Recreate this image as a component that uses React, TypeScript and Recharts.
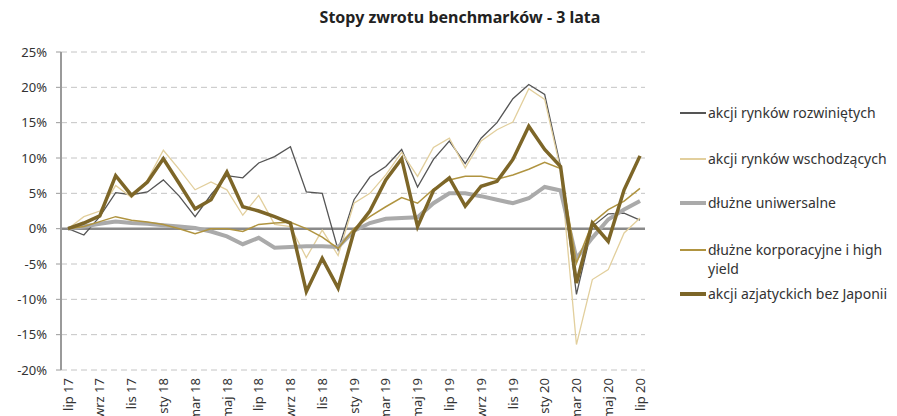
import React from "react";
import { LineChart, Line, XAxis, YAxis, CartesianGrid, ReferenceLine } from "recharts";

const FONT = "'Noto Sans', sans-serif";

const months = [
  "lip 17", "sie 17", "wrz 17", "paź 17", "lis 17", "gru 17",
  "sty 18", "lut 18", "mar 18", "kwi 18", "maj 18", "cze 18",
  "lip 18", "sie 18", "wrz 18", "paź 18", "lis 18", "gru 18",
  "sty 19", "lut 19", "mar 19", "kwi 19", "maj 19", "cze 19",
  "lip 19", "sie 19", "wrz 19", "paź 19", "lis 19", "gru 19",
  "sty 20", "lut 20", "mar 20", "kwi 20", "maj 20", "cze 20",
  "lip 20",
];

const developed = [
  0, -0.9, 1.7, 5.1, 4.8, 5.2, 6.9, 4.6, 1.7, 4.8,
  7.5, 7.2, 9.3, 10.2, 11.6, 5.2, 5.0, -3.0, 4.1, 7.3,
  8.8, 11.2, 5.9, 9.8, 12.4, 9.2, 12.8, 15.0, 18.4, 20.4,
  19.0, 8.8, -9.3, 0.3, 2.1, 2.2, 1.2,
];

const emerging = [
  0, 1.7, 2.5, 6.1, 4.4, 6.9, 11.1, 8.4, 5.5, 6.6,
  5.5, 1.9, 4.7, 0.6, 0.3, -4.1, -0.2, -3.8, 3.6, 5.0,
  7.6, 10.8, 7.4, 11.5, 12.8, 8.6, 12.4, 14.0, 15.1, 19.8,
  18.3, 8.4, -16.4, -7.2, -5.8, -0.6, 1.5,
];

const universal = [
  0, 0.3, 0.7, 1.0, 0.8, 0.7, 0.5, 0.3, 0.1, -0.4,
  -1.1, -2.2, -1.3, -2.7, -2.6, -2.5, -2.5, -2.6, -0.3, 0.8,
  1.4, 1.5, 1.6, 3.6, 5.0, 5.0, 4.6, 4.1, 3.6, 4.3,
  5.9, 5.4, -4.2, -1.3, 1.3, 2.7, 3.9,
];

const corporate = [
  0, 0.3, 1.0, 1.7, 1.2, 0.95, 0.6, 0, -0.7, 0,
  0, -0.4, 0.6, 0.8, 0.9, 0, -1.2, -2.8, 0.0, 1.7,
  3.1, 4.4, 3.6, 5.6, 6.9, 7.4, 7.4, 7.0, 7.6, 8.4,
  9.4, 8.5, -4.9, 0.8, 2.7, 3.9, 5.7,
];

const asia = [
  0, 0.8, 1.8, 7.5, 4.7, 6.6, 9.9, 6.4, 2.8, 4.1,
  8.0, 3.1, 2.5, 1.7, 0.8, -8.9, -4.2, -8.4, -0.4, 2.5,
  6.9, 9.9, 0.3, 5.4, 7.2, 3.2, 6.0, 6.7, 9.8, 14.5,
  11.2, 8.8, -7.7, 0.8, -1.8, 5.5, 10.3,
];

const yTicks = [-20, -15, -10, -5, 0, 5, 10, 15, 20, 25];

const series = [
  { key: "developed", name: "akcji rynków rozwiniętych", color: "#555555", width: 1.3, swatch: 2 },
  { key: "emerging", name: "akcji rynków wschodzących", color: "#e2cf9d", width: 1.3, swatch: 2 },
  { key: "universal", name: "dłużne uniwersalne", color: "#aaaaaa", width: 4, swatch: 4 },
  { key: "corporate", name: "dłużne korporacyjne i high\nyield", color: "#b09440", width: 1.5, swatch: 2 },
  { key: "asia", name: "akcji azjatyckich bez Japonii", color: "#7d6628", width: 3.5, swatch: 4 },
];

const data = months.map((m, i) => ({
  month: m,
  developed: developed[i],
  emerging: emerging[i],
  universal: universal[i],
  corporate: corporate[i],
  asia: asia[i],
}));

// legend rows as in the original (the corporate one wraps onto two lines)
const legendTop = [103, 149, 193, 240, 284];

function MonthTick({ x, y, payload }: any) {
  return (
    <text
      x={x}
      y={y}
      transform={`rotate(-90, ${x}, ${y})`}
      textAnchor="end"
      dy="0.36em"
      fill="#333"
      fontSize={13}
      fontFamily={FONT}
    >
      {payload.value}
    </text>
  );
}

export default function App() {
  return (
    <div style={{ position: "absolute", left: 0, top: 0, width: 897, height: 416, background: "#fff", fontFamily: FONT, overflow: "hidden" }}>
      <div
        style={{
          position: "absolute", left: 0, top: 6, width: 920, textAlign: "center",
          fontSize: 16, fontWeight: 700, color: "#222",
        }}
      >
        Stopy zwrotu benchmarków - 3 lata
      </div>
      <LineChart width={897} height={416} data={data} margin={{ top: 52, right: 252, left: 8, bottom: 0 }}>
        <CartesianGrid horizontal vertical={false} stroke="#c4c4c4" strokeDasharray="6 4" />
        <XAxis
          dataKey="month"
          interval={1}
          height={46}
          padding={{ left: 7, right: 5 }}
          axisLine={false}
          tickLine={false}
          tick={<MonthTick />}
        />
        <YAxis
          width={53}
          domain={[-20, 25]}
          ticks={yTicks}
          tickFormatter={(v) => `${v}%`}
          axisLine={{ stroke: "#9a9a9a", strokeWidth: 2 }}
          tickLine={{ stroke: "#9a9a9a" }}
          tickSize={5}
          tickMargin={9}
          tick={{ fill: "#333", fontSize: 13, fontFamily: FONT }}
        />
        <ReferenceLine y={0} stroke="#8a8a8a" strokeWidth={2.5} />
        {series.map((s) => (
          <Line
            key={s.key}
            type="linear"
            dataKey={s.key}
            name={s.name}
            stroke={s.color}
            strokeWidth={s.width}
            dot={false}
            activeDot={false}
            isAnimationActive={false}
          />
        ))}
      </LineChart>
      {series.map((s, i) => (
        <div
          key={s.key}
          style={{ position: "absolute", left: 680, top: legendTop[i], display: "flex", alignItems: "flex-start" }}
        >
          <div style={{ width: 26, height: s.swatch, background: s.color, marginTop: 10 - s.swatch / 2, flexShrink: 0 }} />
          <div style={{ fontSize: 14, color: "#333", lineHeight: "19px", marginLeft: 2, whiteSpace: "pre" }}>{s.name}</div>
        </div>
      ))}
    </div>
  );
}
